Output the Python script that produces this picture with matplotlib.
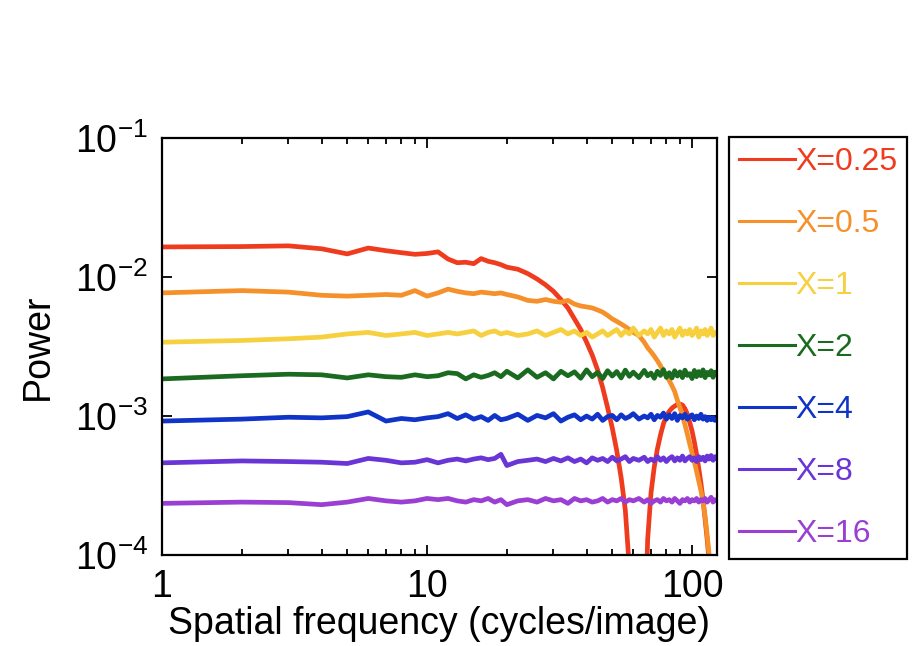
import matplotlib
matplotlib.use('Agg')
import matplotlib.pyplot as plt
from matplotlib.ticker import LogLocator, NullLocator, NullFormatter

# spatial frequency (cycles/image)
freq = [1, 2, 3, 4, 5, 6, 7, 8, 9, 10, 11, 12, 13, 14, 15, 16, 17, 18, 19, 20,
        22, 24, 26, 28, 30, 32, 34, 36, 38, 40, 42, 44, 46, 48, 50, 52, 54, 56, 58, 60,
        63, 66, 68, 70, 72, 74, 76, 78, 80, 82, 84, 86, 88, 90, 92, 94, 96, 98, 100,
        102, 104, 106, 108, 110, 112, 114, 116, 118, 120, 122, 124]

# power, in units of 1e-4
p_025 = [165, 166, 168, 160, 147, 162, 155, 150, 146, 148, 152, 135, 127, 128, 125, 136, 130, 127, 123, 118,
         114, 106, 97, 88, 79, 69, 60, 50, 42, 34, 27.5, 21.5, 16, 11.5, 8.2, 5.6, 3.6, 2.1, 0.8, 0.05,
         0.005, 0.2, 1.3, 2.8, 4.3, 5.8, 7.3, 8.8, 10.0, 10.8, 11.4, 11.8, 12.1, 12.2, 12.0, 11.3, 10.3, 9.0, 7.8,
         6.5, 5.3, 4.2, 3.3, 2.5, 1.8, 1.3, 0.9, 0.6, 0.35, 0.15, 0.05]
p_05 = [77, 80, 78, 74, 73, 74, 75, 74, 80, 73, 77, 82, 79, 77, 76, 78, 77, 76, 77, 75,
        72, 68, 67, 69, 67, 66, 68, 64, 62, 61, 60, 58, 56, 53, 50, 48, 46, 44, 42, 40,
        38, 34, 31, 29, 27, 25, 23, 21, 19.5, 18, 16.5, 15, 13, 11.5, 10, 8.7, 7.4, 6.3, 5.4,
        4.7, 4.0, 3.4, 2.9, 2.4, 1.9, 1.4, 1.0, 0.6, 0.3, 0.1, 0.03]
p_1 = [34, 35, 36, 37, 39, 40, 38, 39, 40, 38, 39, 40, 39, 40, 41, 38, 40, 41, 39, 40,
       38, 39, 41, 38, 40, 42, 39, 41, 38, 40, 37, 39, 41, 38, 40, 42, 38, 41, 39, 43,
       38, 41, 39, 42, 37, 40, 43, 38, 41, 39, 42, 37, 40, 43, 38, 41, 39, 42, 38,
       40, 43, 37, 41, 39, 42, 38, 40, 43, 38, 40, 39]
p_2 = [18.5, 19.5, 20, 19.8, 18.8, 19.8, 19.2, 19.0, 19.8, 19.2, 19.5, 20.5, 20.2, 18.5, 19.8, 19.0, 19.6, 20.5, 19.2, 21,
       18.8, 21.5, 19, 20.5, 18.5, 21, 19.5, 20.8, 18.7, 21.5, 19.2, 20.6, 18.6, 21.2, 19.4, 20.9, 18.8, 21.4, 19.3, 20.7,
       18.9, 21.3, 19.5, 20.4, 18.7, 21.0, 19.6, 21.6, 19.0, 20.5, 18.8, 21.2, 19.4, 20.8, 18.9, 21.4, 19.6, 20.2, 18.6,
       21.3, 19.2, 20.9, 19.5, 21.5, 18.9, 20.6, 19.8, 21.2, 19.0, 20.7, 19.9]
p_4 = [9.2, 9.5, 9.8, 9.7, 9.9, 10.7, 9.2, 9.6, 9.4, 9.7, 9.9, 10.4, 9.6, 10.2, 9.5, 9.9, 9.3, 10.1, 9.4, 9.6,
       10.3, 9.3, 10.1, 9.7, 10.4, 9.2, 9.8, 10.2, 9.4, 10.0, 9.5, 10.3, 9.3, 9.9, 10.1, 9.4, 10.2, 9.6, 9.9, 10.4,
       9.5, 10.0, 9.7, 10.3, 9.4, 10.1, 9.8, 10.5, 9.5, 10.2, 9.6, 10.4, 9.3, 10.1, 9.7, 10.3, 9.5, 9.9, 10.2,
       9.4, 10.0, 9.6, 10.3, 9.5, 9.9, 9.3, 9.8, 9.4, 9.7, 9.3, 9.5]
p_8 = [4.6, 4.75, 4.7, 4.65, 4.55, 4.95, 4.8, 4.6, 4.65, 4.85, 4.6, 4.8, 4.9, 4.75, 4.9, 5.0, 4.85, 4.95, 5.3, 4.4,
       4.7, 4.8, 4.9, 4.7, 4.95, 4.75, 5.0, 4.7, 4.9, 4.6, 5.0, 4.8, 4.95, 4.7, 5.05, 4.75, 4.9, 5.1, 4.7, 4.95,
       4.8, 5.05, 4.7, 4.9, 4.75, 5.1, 4.8, 5.0, 4.7, 4.95, 5.1, 4.75, 5.0, 4.8, 5.15, 4.75, 4.95, 5.1, 4.8,
       5.0, 4.7, 5.1, 4.85, 5.05, 4.75, 5.15, 4.9, 5.2, 4.8, 5.1, 4.95]
p_16 = [2.35, 2.4, 2.38, 2.3, 2.4, 2.55, 2.45, 2.4, 2.45, 2.55, 2.5, 2.55, 2.45, 2.4, 2.5, 2.45, 2.55, 2.4, 2.5, 2.3,
        2.45, 2.5, 2.4, 2.55, 2.45, 2.5, 2.35, 2.55, 2.45, 2.5, 2.4, 2.45, 2.55, 2.4, 2.5, 2.45, 2.55, 2.4, 2.5, 2.45,
        2.55, 2.4, 2.5, 2.35, 2.45, 2.5, 2.4, 2.55, 2.45, 2.5, 2.4, 2.55, 2.45, 2.35, 2.5, 2.45, 2.55, 2.4, 2.5,
        2.45, 2.55, 2.4, 2.5, 2.45, 2.55, 2.4, 2.5, 2.6, 2.4, 2.5, 2.45]

labels = ['X=0.25', 'X=0.5', 'X=1', 'X=2', 'X=4', 'X=8', 'X=16']
series = [p_025, p_05, p_1, p_2, p_4, p_8, p_16]
colors = ['#f03c1e', '#f5902a', '#f7d040', '#1a6b1f', '#1033c8', '#6a35d6', '#9b3fd4']

plt.rcParams['font.family'] = ['Liberation Sans', 'DejaVu Sans']
plt.rcParams['mathtext.fontset'] = 'custom'
plt.rcParams['mathtext.rm'] = 'Liberation Sans'

fig = plt.figure(figsize=(9.17, 6.46), dpi=100)
ax = fig.add_axes([0.1767, 0.141, 0.605, 0.645])

for vals, lab, c in zip(series, labels, colors):
    ax.plot(freq, [v * 1e-4 for v in vals], color=c, linewidth=3.4, label=lab)

ax.set_xscale('log')
ax.set_yscale('log')
ax.set_xlim(1, 124)
ax.set_ylim(1e-4, 1e-1)

ax.xaxis.set_major_locator(LogLocator(base=10))
ax.xaxis.set_minor_locator(LogLocator(base=10, subs=range(2, 10)))
ax.xaxis.set_minor_formatter(NullFormatter())
ax.yaxis.set_minor_locator(NullLocator())
ax.xaxis.set_major_formatter(matplotlib.ticker.FuncFormatter(lambda v, p: '%g' % v))

ax.tick_params(which='both', direction='in', top=True, right=True, labelsize=27, width=1.3)
ax.tick_params(which='major', length=7, pad=10)
ax.tick_params(which='minor', length=4)
for s in ax.spines.values():
    s.set_linewidth(1.6)

ax.set_xlabel('Spatial frequency (cycles/image)', fontsize=27, labelpad=1)
ax.set_ylabel('Power', fontsize=27, labelpad=14)

leg = fig.legend(loc='upper left', bbox_to_anchor=(729 / 917, 1 - 137 / 646),
                 fontsize=23, frameon=True, fancybox=False, framealpha=1, handlelength=1.75,
                 handletextpad=0.0, labelspacing=1.0, borderpad=0.32, borderaxespad=0)
leg.get_frame().set_edgecolor('black')
leg.get_frame().set_linewidth(1.6)
for t, c in zip(leg.get_texts(), colors):
    t.set_color(c)
for h in leg.get_lines():
    h.set_linewidth(2.2)

fig.savefig('out.png', dpi=100)
